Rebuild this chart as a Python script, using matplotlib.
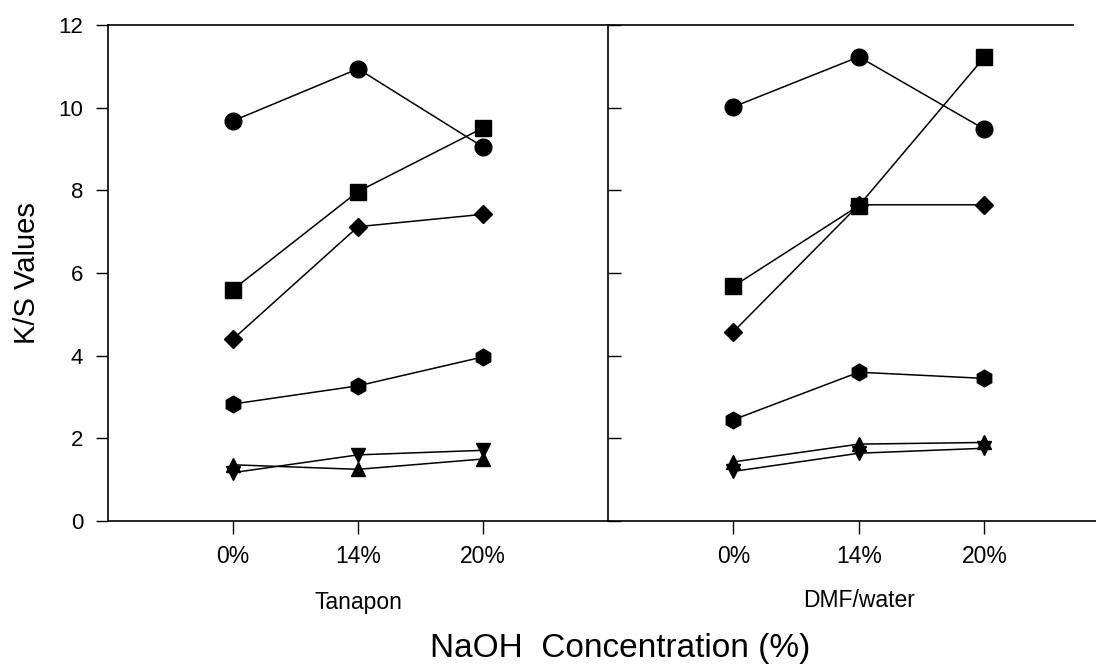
import matplotlib
matplotlib.use("Agg")
import matplotlib.pyplot as plt

plt.rcParams['font.family'] = ['Liberation Sans', 'DejaVu Sans']

conc_labels = ['0%', '14%', '20%']
x_pos = [0, 1, 2]

# Tanapon panel
tan_circle = [9.68, 10.94, 9.05]
tan_square = [5.6, 7.97, 9.51]
tan_diamond = [4.4, 7.12, 7.42]
tan_hexagon = [2.83, 3.27, 3.97]
tan_tri_down = [1.17, 1.6, 1.71]
tan_tri_up = [1.36, 1.25, 1.5]

# DMF/water panel
dmf_circle = [10.02, 11.23, 9.48]
dmf_square = [5.68, 7.63, 11.22]
dmf_diamond = [4.58, 7.65, 7.65]
dmf_hexagon = [2.45, 3.6, 3.45]
dmf_tri_down = [1.2, 1.64, 1.76]
dmf_tri_up = [1.43, 1.86, 1.9]

markers = ['o', 's', 'D', 'h', 'v', '^']
msizes = [12, 11, 9, 12, 10, 10]

fig = plt.figure(figsize=(10.96, 6.66), dpi=100)
ax1 = fig.add_axes([108 / 1096, 1 - 521 / 666, 500 / 1096, 496 / 666])
ax2 = fig.add_axes([608 / 1096, 1 - 521 / 666, 488 / 1096, 496 / 666])

left_series = [tan_circle, tan_square, tan_diamond, tan_hexagon, tan_tri_down, tan_tri_up]
right_series = [dmf_circle, dmf_square, dmf_diamond, dmf_hexagon, dmf_tri_down, dmf_tri_up]

for ys, m, ms in zip(left_series, markers, msizes):
    ax1.plot(x_pos, ys, color='black', lw=1.1, marker=m, markersize=ms,
             markerfacecolor='black', markeredgecolor='black')
for ys, m, ms in zip(right_series, markers, msizes):
    ax2.plot(x_pos, ys, color='black', lw=1.1, marker=m, markersize=ms,
             markerfacecolor='black', markeredgecolor='black')

for ax in (ax1, ax2):
    ax.set_ylim(0, 12)
    ax.set_xticks(x_pos)
    ax.set_xticklabels(conc_labels, fontsize=16.5)
    ax.tick_params(axis='x', direction='out', length=9, width=1, pad=8)
    ax.spines['right'].set_visible(False)
    for s in ax.spines.values():
        s.set_linewidth(1.2)

ax1.set_xlim(-1, 3)
ax1.set_yticks(range(0, 13, 2))
ax1.tick_params(axis='y', direction='out', length=9, width=1, labelsize=16, pad=9)
ax1.set_ylabel('K/S Values', fontsize=21, labelpad=12)

ax2.set_xlim(-1, 2.89)
ax2.spines['top'].set_bounds(-1, 2.71)
ax2.set_yticks(range(0, 13, 2))
ax2.tick_params(axis='y', direction='in', length=9, width=1, labelleft=False)

ax1.text(1, -0.165, 'Tanapon', transform=ax1.get_xaxis_transform(),
         ha='center', va='center', fontsize=16.5)
ax2.text(1, -0.16, 'DMF/water', transform=ax2.get_xaxis_transform(),
         ha='center', va='center', fontsize=16.5)

fig.text(620 / 1096, 1 - 648 / 666, 'NaOH  Concentration (%)',
         ha='center', va='center', fontsize=24)

fig.savefig('out.png', dpi=100)
